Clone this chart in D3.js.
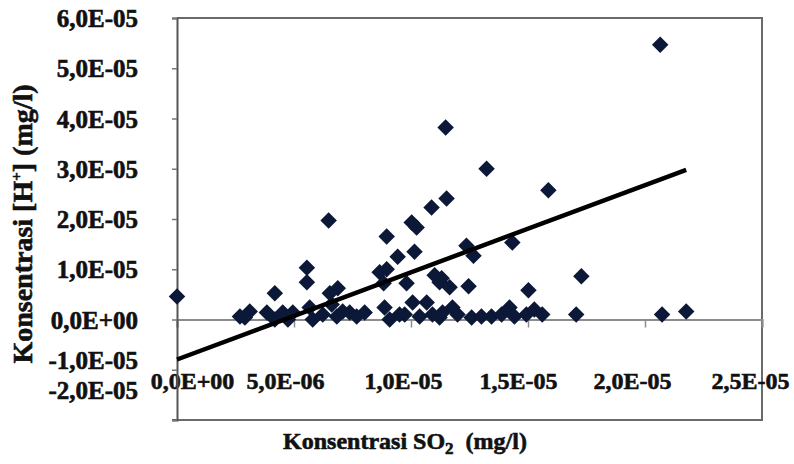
<!DOCTYPE html>
<html>
<head>
<meta charset="utf-8">
<script src="https://cdn.jsdelivr.net/npm/d3@7/dist/d3.min.js"></script>
<style>
  html, body { margin: 0; padding: 0; background: #fff; }
  svg { display: block; }
  text { font-family: "Liberation Serif", "Times New Roman", serif; font-weight: bold; fill: #111; }
</style>
</head>
<body>
<svg id="chart" width="794" height="464"></svg>
<script>
// ---- data (units of mg/l) ----
const so2 = [
  0.000, 2.065, 1.148, 1.323, 1.587, 1.152, 1.088, 1.003, 1.024, 0.648,
  0.896, 1.015, 0.943, 1.237, 1.267, 1.433, 1.728, 1.502, 1.246, 0.981,
  1.101, 1.131, 1.122, 1.165, 0.866, 0.896, 0.883, 0.555, 0.555, 0.418,
  0.653, 0.687, 0.661,
  0.269, 0.290, 0.311, 0.384, 0.418, 0.452, 0.474, 0.495, 0.567, 0.580,
  0.623, 0.683, 0.708, 0.738, 0.768, 0.802, 0.887, 0.909, 0.951, 0.973,
  1.007, 1.037, 1.067, 1.092, 1.122, 1.135, 1.177, 1.199, 1.259, 1.301,
  1.344, 1.387, 1.421, 1.442, 1.493, 1.527, 1.561, 1.706, 2.073, 2.176
].map(v => v * 1e-5);
const hPlus = [
  0.46, 5.47, 3.82, 3.00, 2.57, 2.41, 2.23, 1.93, 1.83, 1.97,
  1.65, 1.35, 1.25, 1.47, 1.27, 1.53, 0.86, 0.58, 0.66, 0.72,
  0.88, 0.82, 0.74, 0.64, 0.94, 1.00, 0.72, 1.03, 0.74, 0.52,
  0.52, 0.62, 0.30,
  0.06, 0.04, 0.16, 0.14, 0.00, 0.14, 0.00, 0.14, 0.24, 0.00,
  0.10, 0.06, 0.16, 0.14, 0.06, 0.14, 0.24, 0.00, 0.10, 0.10,
  0.34, 0.06, 0.34, 0.10, 0.04, 0.14, 0.24, 0.10, 0.04, 0.06,
  0.06, 0.10, 0.24, 0.06, 0.10, 0.20, 0.10, 0.10, 0.10, 0.16
].map(v => v * 1e-5);
// linear trend line y = slope * x + intercept
const trendSlope = 1.735;
const trendIntercept = -0.796e-5;

const xTickValues = [0, 0.5e-5, 1.0e-5, 1.5e-5, 2.0e-5, 2.5e-5];
const xTickLabels = ["0,0E+00", "5,0E-06", "1,0E-05", "1,5E-05", "2,0E-05", "2,5E-05"];
const yTickValues = [-2e-5, -1e-5, 0, 1e-5, 2e-5, 3e-5, 4e-5, 5e-5, 6e-5];
const yTickLabels = ["-2,0E-05", "-1,0E-05", "0,0E+00", "1,0E-05", "2,0E-05", "3,0E-05", "4,0E-05", "5,0E-05", "6,0E-05"];

// ---- layout ----
const svg = d3.select("#chart");
const mLeft = 177, mRight = 762, mTop = 18, mBottom = 420;
const x = d3.scaleLinear().domain([0, 2.5e-5]).range([mLeft, mRight]);
const y = d3.scaleLinear().domain([-2e-5, 6e-5]).range([mBottom, mTop]);
// label nudges seen in the scanned original
const yLabelNudge = [-30, -10, 0, 0, 0, 0, 0, 0, 0];
const xLabelNudge = [15, -9, -8, -10, -13, -12];

// plot-area frame
svg.append("path")
  .attr("d", `M${mLeft},${mTop}H${mRight}V${mBottom}H${mLeft - 5}`)
  .attr("fill", "none").attr("stroke", "#6a6a6a").attr("stroke-width", 2);

const boldText = sel => sel
  .style("font-family", "Liberation Serif").style("font-weight", "bold")
  .attr("fill", "#111").attr("stroke", "#111").attr("stroke-width", 0.6);

// zero line / x axis
const xAxis = svg.append("g")
  .attr("transform", `translate(0,${y(0)})`)
  .call(d3.axisBottom(x).tickValues(xTickValues).tickSize(8)
        .tickFormat((d, i) => xTickLabels[i]));
xAxis.select(".domain").attr("stroke", "#8c8c8c").attr("stroke-width", 2);
xAxis.selectAll(".tick line").attr("stroke", "#8c8c8c").attr("stroke-width", 1.5);
xAxis.selectAll(".tick text")
  .attr("y", 52).attr("dx", (d, i) => xLabelNudge[i])
  .style("font-size", "24px").call(boldText);

// y axis
const yAxis = svg.append("g")
  .attr("transform", `translate(${x(0)},0)`)
  .call(d3.axisLeft(y).tickValues(yTickValues).tickSize(5).tickPadding(34)
        .tickFormat((d, i) => yTickLabels[i]));
yAxis.select(".domain").attr("stroke", "#555").attr("stroke-width", 2);
yAxis.selectAll(".tick line").attr("stroke", "#777").attr("stroke-width", 1.5);
yAxis.selectAll(".tick text")
  .attr("dy", "0.34em")
  .attr("y", (d, i) => yLabelNudge[i])
  .style("font-size", "25px").call(boldText);

// points
const pts = so2.map((v, i) => ({ x: v, y: hPlus[i] }));
svg.append("g").selectAll("path").data(pts).join("path")
  .attr("transform", d => `translate(${x(d.x)},${y(d.y)}) rotate(45)`)
  .attr("d", d3.symbol(d3.symbolSquare, 136))
  .attr("fill", "#0c1838");

// trend line
const xMin = d3.min(so2), xMax = d3.max(so2);
const trend = [xMin, xMax].map(v => ({ x: v, y: trendSlope * v + trendIntercept }));
svg.append("path")
  .datum(trend)
  .attr("d", d3.line().x(d => x(d.x)).y(d => y(d.y)))
  .attr("stroke", "#000").attr("stroke-width", 4.5).attr("fill", "none");

// axis titles
svg.append("text")
  .attr("transform", "translate(32,224) rotate(-90)")
  .attr("text-anchor", "middle")
  .style("font-size", "28px")
  .call(boldText)
  .call(t => {
    t.append("tspan").text("Konsentrasi [H");
    t.append("tspan").text("+").attr("dy", -11).style("font-size", "15px");
    t.append("tspan").text("] (mg/l)").attr("dy", 11);
  });

svg.append("text")
  .attr("x", 405).attr("y", 449)
  .attr("text-anchor", "middle")
  .style("font-size", "24px")
  .call(boldText)
  .call(t => {
    t.append("tspan").text("Konsentrasi SO");
    t.append("tspan").text("2").attr("dy", 5).style("font-size", "17px");
    t.append("tspan").text("\u00a0\u00a0(mg/l)").attr("dy", -5);
  });
</script>
</body>
</html>
